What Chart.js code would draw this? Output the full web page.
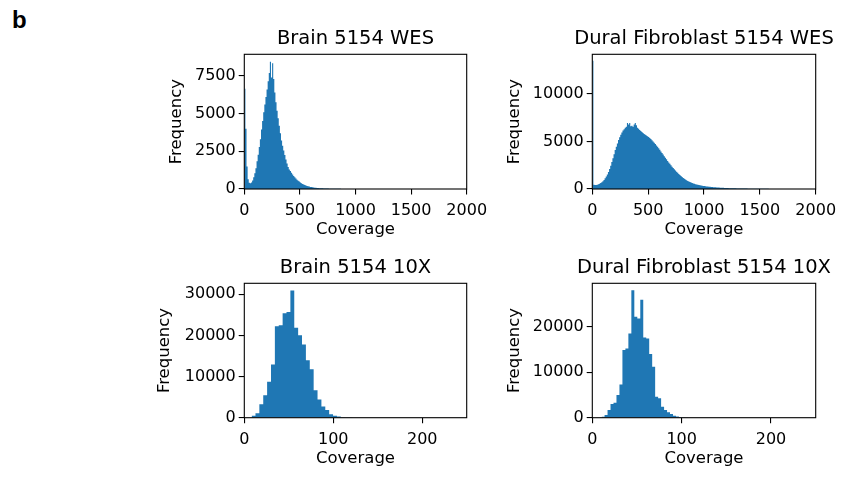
<!DOCTYPE html>
<html>
<head>
<meta charset="utf-8">
<title>Coverage histograms 5154</title>
<script src="https://cdn.jsdelivr.net/npm/chart.js@4.4.1/dist/chart.umd.min.js"></script>
<style>
  html, body { margin: 0; padding: 0; background: #fff; }
  #figure { position: relative; width: 846px; height: 481px; overflow: hidden; }
  #figure canvas { position: absolute; }
  .panel-letter {
    position: absolute; left: 12px; top: 6px;
    font: bold 24px "Liberation Sans", Arial, sans-serif; color: #000;
  }
</style>
</head>
<body>
<div id="figure">
  <div class="panel-letter">b</div>
  <canvas id="brainWes" width="431" height="240" style="left:140px;top:10px;width:431px;height:240px"></canvas>
  <canvas id="duralWes" width="428" height="240" style="left:490px;top:10px;width:428px;height:240px"></canvas>
  <canvas id="brain10x" width="431" height="231" style="left:140px;top:250px;width:431px;height:231px"></canvas>
  <canvas id="dural10x" width="428" height="231" style="left:490px;top:250px;width:428px;height:231px"></canvas>
</div>

<script>
// ─── Data ─────────────────────────────────────────────────────────────────────

const TITLES = [
  'Brain 5154 WES',
  'Dural Fibroblast 5154 WES',
  'Brain 5154 10X',
  'Dural Fibroblast 5154 10X',
];

// WES histograms: bins of 10, starting at coverage 0
const WES_BIN_START = 0;
const WES_BIN_WIDTH = 10;

const brainWesCounts = [
  6650, 4000, 1500, 650, 420, 380, 430, 560, 780, 1050,
  1380, 1850, 2280, 2780, 3300, 3950, 4520, 5100, 5600, 6100,
  6600, 7150, 7700, 8450, 7400, 8350, 7300, 6400, 5750, 5200,
  4700, 4200, 3700, 3220, 2870, 2550, 2250, 1950, 1700, 1460,
  1300, 1190, 1080, 970, 860, 780, 700, 620, 550, 490,
  430, 380, 335, 295, 260, 230, 205, 180, 160, 140,
  125, 110, 97, 85, 75, 66, 60, 55, 50, 46,
  42, 38, 35, 32, 29, 26, 24, 22, 20, 18,
  16, 15, 13, 12, 11, 10, 9, 8, 7, 7,
  6, 6, 5, 5, 4, 4, 4, 3, 3, 3,
];

const duralWesCounts = [
  13500, 450, 420, 430, 450, 490, 550, 620, 710, 820,
  960, 1120, 1310, 1530, 1800, 2100, 2450, 2850, 3250, 3650,
  4100, 4450, 4800, 5150, 5450, 5700, 5950, 6150, 6300, 6450,
  6550, 6950, 6800, 6950, 6600, 6650, 6550, 6800, 6950, 6700,
  6450, 6350, 6200, 6100, 6000, 5900, 5800, 5720, 5640, 5560,
  5470, 5370, 5260, 5140, 5010, 4880, 4740, 4590, 4440, 4280,
  4120, 3960, 3800, 3630, 3460, 3290, 3120, 2960, 2800, 2650,
  2500, 2350, 2210, 2080, 1950, 1820, 1700, 1580, 1470, 1360,
  1260, 1170, 1080, 1000, 920, 850, 790, 730, 680, 630,
  590, 550, 510, 480, 450, 420, 395, 370, 348, 327,
  308, 290, 273, 258, 243, 230, 217, 205, 194, 184,
  174, 165, 156, 148, 140, 133, 126, 119, 113, 107,
  101, 96, 91, 86, 82, 78, 74, 70, 66, 63,
  60, 57, 54, 51, 48, 46, 44, 42, 40, 38,
  36, 34, 32, 30, 28, 26, 25, 24, 23, 22,
  21, 20, 19, 18, 17, 16, 15, 14, 13, 12,
  11, 10, 9, 8, 8, 7, 7, 6, 6, 5,
  5, 5, 4, 4, 4, 3, 3, 3, 2, 2,
];

// 10X histograms: wider bins
const BRAIN_10X_BIN_START = 8.2;
const BRAIN_10X_BIN_WIDTH = 4.36;
const brain10xCounts = [
  500, 1100, 3250, 5450, 8750, 12950, 22250, 22450, 25400, 25700,
  30950, 21900, 20050, 17800, 13950, 11800, 6680, 4450, 2700, 1850,
  850, 500, 280, 130, 60, 30, 15,
];

const DURAL_10X_BIN_START = 10.4;
const DURAL_10X_BIN_WIDTH = 3.33;
const dural10xCounts = [
  200, 600, 1700, 3000, 3300, 5000, 7300, 14900, 15200, 18500,
  28000, 22200, 21800, 25900, 17600, 17400, 14000, 11200, 4600, 4300,
  2400, 1700, 1200, 800, 450, 250, 150, 80, 40,
];

// Tick labels
const wesTicksX = [0, 500, 1000, 1500, 2000];
const tenxTicksX = [0, 100, 200];
const brainWesTicksY = [0, 2500, 5000, 7500];
const duralWesTicksY = [0, 5000, 10000];
const brain10xTicksY = [0, 10000, 20000, 30000];
const dural10xTicksY = [0, 10000, 20000];

// ─── Style ────────────────────────────────────────────────────────────────────

const BAR_COLOR = '#1f77b4';
const FONT_FAMILY = '"DejaVu Sans", Verdana, sans-serif';
const TICK_FONT = { family: FONT_FAMILY, size: 16, lineHeight: 1.2 };
const LABEL_FONT = { family: FONT_FAMILY, size: 16.5, lineHeight: 1.2 };
const TITLE_FONT = { family: FONT_FAMILY, size: 19.5, weight: 'normal', lineHeight: 1.2 };

// matplotlib-style box around the axes
const framePlugin = {
  id: 'frame',
  afterDraw(chart) {
    const { ctx, chartArea: a } = chart;
    ctx.save();
    ctx.strokeStyle = '#000';
    ctx.lineWidth = 1.1;
    ctx.strokeRect(a.left, a.top, a.right - a.left, a.bottom - a.top);
    ctx.restore();
  },
};

// ─── Helpers ──────────────────────────────────────────────────────────────────

// bin edges -> points for a stepped, filled line
function histPoints(start, width, counts) {
  const pts = counts.map((c, i) => ({ x: start + i * width, y: c }));
  pts.push({ x: start + counts.length * width, y: 0 });
  return pts;
}

function axisGrid() {
  return {
    display: true,
    drawOnChartArea: false,
    drawTicks: true,
    tickLength: 5.6,
    color: '#000',
    lineWidth: 1.1,
  };
}

function makePanel(id, p) {
  new Chart(document.getElementById(id), {
    type: 'line',
    data: {
      datasets: [{
        data: p.points,
        stepped: true,
        fill: 'origin',
        backgroundColor: BAR_COLOR,
        borderColor: 'rgba(0,0,0,0)',
        borderWidth: 0,
        pointRadius: 0,
        tension: 0,
      }],
    },
    options: {
      responsive: false,
      animation: false,
      events: [],
      layout: { padding: { left: 0, top: 0, right: 0, bottom: p.padBottom } },
      plugins: {
        legend: { display: false },
        tooltip: { enabled: false },
        title: {
          display: true,
          text: p.title,
          color: '#000',
          font: TITLE_FONT,
          padding: { top: p.titleTop, bottom: p.titleBottom },
        },
      },
      scales: {
        x: {
          type: 'linear',
          min: 0,
          max: p.xMax,
          afterBuildTicks: s => { s.ticks = p.xTicks.map(v => ({ value: v })); },
          afterFit: s => { s.height = p.xAxisHeight; },
          grid: axisGrid(),
          border: { display: false },
          ticks: { color: '#000', font: TICK_FONT, padding: 6.5, maxRotation: 0, autoSkip: false, callback: v => String(v) },
          title: { display: true, text: 'Coverage', color: '#000', font: LABEL_FONT, padding: { top: 0, bottom: 0 } },
        },
        y: {
          type: 'linear',
          min: 0,
          max: p.yMax,
          afterBuildTicks: s => { s.ticks = p.yTicks.map(v => ({ value: v })); },
          afterFit: s => { s.width = p.yAxisWidth; },
          grid: axisGrid(),
          border: { display: false },
          ticks: { color: '#000', font: TICK_FONT, padding: 3, autoSkip: false, callback: v => String(v) },
          title: { display: true, text: 'Frequency', color: '#000', font: LABEL_FONT, padding: { top: p.yTitlePad, bottom: 0 } },
        },
        // empty spacer on the right so the full-width title sits over the plot centre
        spacer: {
          type: 'linear',
          position: 'right',
          display: true,
          afterFit: s => { s.width = p.yAxisWidth; },
          grid: { display: false },
          border: { display: false },
          ticks: { display: false },
        },
      },
    },
    plugins: [framePlugin],
  });
}

// ─── Boot ─────────────────────────────────────────────────────────────────────

makePanel('brainWes', {
  title: TITLES[0],
  points: histPoints(WES_BIN_START, WES_BIN_WIDTH, brainWesCounts),
  xMax: 2000, xTicks: wesTicksX,
  yMax: 8940, yTicks: brainWesTicksY,
  yAxisWidth: 104.3, yTitlePad: 26.5,
  xAxisHeight: 50.3, padBottom: 10.7,
  titleTop: 16.9, titleBottom: 4.0,
});

makePanel('duralWes', {
  title: TITLES[1],
  points: histPoints(WES_BIN_START, WES_BIN_WIDTH, duralWesCounts),
  xMax: 2000, xTicks: wesTicksX,
  yMax: 14180, yTicks: duralWesTicksY,
  yAxisWidth: 102.3, yTitlePad: 15,
  xAxisHeight: 50.3, padBottom: 10.7,
  titleTop: 16.9, titleBottom: 4.0,
});

makePanel('brain10x', {
  title: TITLES[2],
  points: histPoints(BRAIN_10X_BIN_START, BRAIN_10X_BIN_WIDTH, brain10xCounts),
  xMax: 250, xTicks: tenxTicksX,
  yMax: 32680, yTicks: brain10xTicksY,
  yAxisWidth: 104.3, yTitlePad: 15,
  xAxisHeight: 51.3, padBottom: 12,
  titleTop: 6.1, titleBottom: 3.8,
});

makePanel('dural10x', {
  title: TITLES[3],
  points: histPoints(DURAL_10X_BIN_START, DURAL_10X_BIN_WIDTH, dural10xCounts),
  xMax: 250, xTicks: tenxTicksX,
  yMax: 29540, yTicks: dural10xTicksY,
  yAxisWidth: 102.3, yTitlePad: 15,
  xAxisHeight: 51.3, padBottom: 12,
  titleTop: 6.1, titleBottom: 3.8,
});
</script>
</body>
</html>
